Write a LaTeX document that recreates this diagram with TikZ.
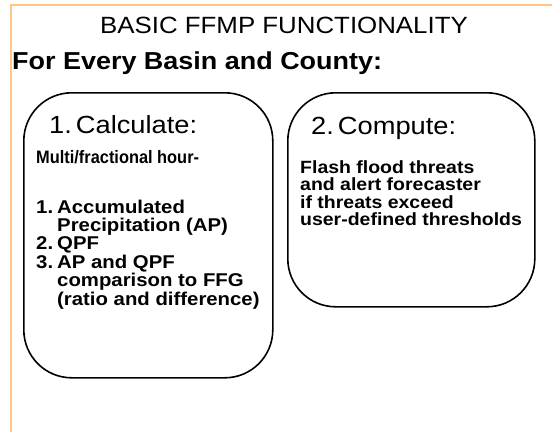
\documentclass[tikz,border=0pt]{standalone}
\usepackage{fontspec}
\setmainfont{Liberation Sans}[FakeStretch=1.1]
\newfontfamily\narrowsans{Liberation Sans}[FakeStretch=0.91]
\usetikzlibrary{positioning}
\definecolor{framepeach}{RGB}{255,198,140}

\begin{document}
\begin{tikzpicture}[x=1pt,y=-1pt]
 \tikzset{box/.style = {draw, line width=1.6pt, rounded corners=48pt, inner sep=0pt}}
 \tikzset{head/.style = {font=\fontsize{24.8}{26}\selectfont, inner sep=0pt, anchor=base west}}
 \tikzset{body/.style = {font=\bfseries\fontsize{18.5}{20}\selectfont, inner sep=0pt, anchor=base west}}
 \tikzset{rbody/.style = {body, font=\bfseries\fontsize{17.7}{20}\selectfont}}
 \useasboundingbox (0,0) rectangle (552,432);
 % frame
 \draw[framepeach, line width=1.5pt] (11,432) -- (11,5) -- (552,5);

 % headings
 \node[head, font=\fontsize{23.5}{26}\selectfont, anchor=base] (title) at (284,33) {BASIC FFMP FUNCTIONALITY};
 \node[head, font=\bfseries\fontsize{24.5}{27}\selectfont] (every) at (12,69) {For Every Basin and County:};

 % boxes
 \node[box, minimum width=249pt, minimum height=285pt, anchor=north west] (calc) at (23,92) {};
 \node[box, minimum width=247pt, minimum height=214pt, anchor=north west] (comp) at (287,92) {};

 % left box
 \node[head] (calchead) at (49,133) {1.\kern4pt Calculate:};
 \node[body, font=\narrowsans\bfseries\fontsize{18}{20}\selectfont] (multi) at (36,163) {Multi/fractional hour-};
 \node[body] (n1) at (36,213) {1.};
 \node[body] (acc) at (57,213) {Accumulated};
 \node[body] (prec) at (57,231.4) {Precipitation (AP)};
 \node[body] (n2) at (36,249.8) {2.};
 \node[body] (qpf) at (57,249.8) {QPF};
 \node[body] (n3) at (36,268.2) {3.};
 \node[body] (apqpf) at (57,268.2) {AP and QPF};
 \node[body] (ffg) at (57,286.6) {comparison to FFG};
 \node[body] (ratio) at (57,305) {(ratio and difference)};

 % right box
 \node[head] (comphead) at (311,134) {2.\kern4pt Compute:};
 \node[rbody] (flash) at (300,173) {Flash flood threats};
 \node[rbody] (alert) at (300,190.5) {and alert forecaster};
 \node[rbody] (exceed) at (300,208) {if threats exceed};
 \node[rbody] (user) at (300,225.5) {user-defined thresholds};
\end{tikzpicture}
\end{document}
